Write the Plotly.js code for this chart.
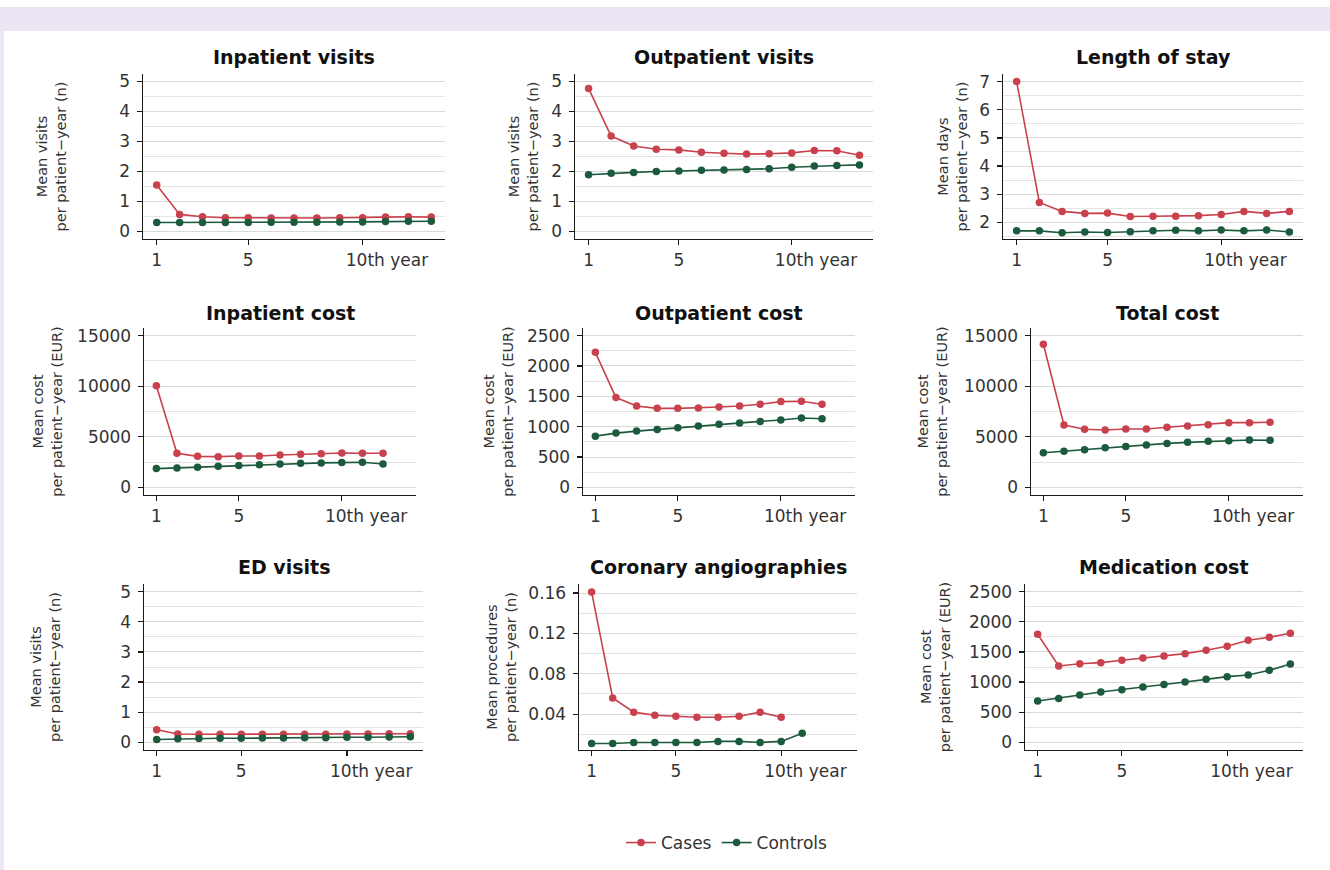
<!DOCTYPE html>
<html>
<head>
<meta charset="utf-8">
<script src="https://cdn.plot.ly/plotly-3.0.1.min.js"></script>
<style>
  html, body { margin: 0; padding: 0; background: #ffffff; }
  #chart { width: 1330px; height: 870px; }
</style>
</head>
<body>
<div id="chart"></div>
<script>
// ---------------- DATA ----------------
const years = [1, 2, 3, 4, 5, 6, 7, 8, 9, 10, 11, 12, 13];
const xTickVals = [1, 5, 10];
const xTickLabels = ["1", "5", "10th year"];
const seriesNames = ["Cases", "Controls"];

const panelTitles = ["Inpatient visits", "Outpatient visits", "Length of stay",
                     "Inpatient cost", "Outpatient cost", "Total cost",
                     "ED visits", "Coronary angiographies", "Medication cost"];
const yTitles = ["Mean visits<br>per patient\u2212year (n)", "Mean visits<br>per patient\u2212year (n)",
                 "Mean days<br>per patient\u2212year (n)",
                 "Mean cost<br>per patient\u2212year (EUR)", "Mean cost<br>per patient\u2212year (EUR)",
                 "Mean cost<br>per patient\u2212year (EUR)",
                 "Mean visits<br>per patient\u2212year (n)", "Mean procedures<br>per patient\u2212year (n)",
                 "Mean cost<br>per patient\u2212year (EUR)"];

const inpatientVisitsCases    = [1.55, 0.57, 0.49, 0.46, 0.46, 0.45, 0.45, 0.45, 0.46, 0.46, 0.48, 0.49, 0.48];
const inpatientVisitsControls = [0.30, 0.30, 0.30, 0.30, 0.30, 0.31, 0.31, 0.31, 0.32, 0.32, 0.33, 0.34, 0.34];

const outpatientVisitsCases    = [4.77, 3.18, 2.85, 2.74, 2.72, 2.64, 2.61, 2.58, 2.59, 2.62, 2.70, 2.69, 2.54];
const outpatientVisitsControls = [1.89, 1.94, 1.97, 2.00, 2.02, 2.04, 2.05, 2.07, 2.09, 2.14, 2.18, 2.20, 2.22];

const lengthOfStayCases    = [7.00, 2.71, 2.39, 2.32, 2.33, 2.21, 2.22, 2.22, 2.24, 2.28, 2.39, 2.32, 2.39];
const lengthOfStayControls = [1.70, 1.70, 1.63, 1.66, 1.64, 1.67, 1.70, 1.72, 1.70, 1.73, 1.70, 1.73, 1.66];

const inpatientCostCases    = [10050, 3370, 3070, 3040, 3100, 3100, 3200, 3270, 3330, 3400, 3370, 3370];
const inpatientCostControls = [1860, 1930, 1990, 2090, 2160, 2250, 2320, 2390, 2420, 2450, 2480, 2320];

const outpatientCostCases    = [2224, 1479, 1341, 1302, 1302, 1308, 1324, 1341, 1369, 1413, 1418, 1369];
const outpatientCostControls = [844, 894, 927, 955, 982, 1010, 1038, 1060, 1087, 1109, 1142, 1131];

const totalCostCases    = [14140, 6170, 5740, 5670, 5770, 5770, 5940, 6070, 6200, 6400, 6400, 6440];
const totalCostControls = [3420, 3580, 3720, 3920, 4050, 4180, 4350, 4450, 4550, 4610, 4680, 4650];

const edVisitsCases    = [0.42, 0.28, 0.27, 0.27, 0.27, 0.27, 0.27, 0.27, 0.27, 0.28, 0.28, 0.29, 0.29];
const edVisitsControls = [0.10, 0.12, 0.13, 0.14, 0.14, 0.15, 0.15, 0.16, 0.16, 0.17, 0.17, 0.18, 0.19];

const coronaryCases    = [0.161, 0.056, 0.042, 0.039, 0.038, 0.037, 0.037, 0.038, 0.042, 0.037];
const coronaryControls = [0.011, 0.011, 0.012, 0.012, 0.012, 0.012, 0.013, 0.013, 0.012, 0.013, 0.021];

const medicationCostCases    = [1792, 1267, 1305, 1322, 1361, 1400, 1433, 1471, 1527, 1593, 1692, 1742, 1809];
const medicationCostControls = [686, 730, 785, 835, 874, 918, 962, 1001, 1045, 1090, 1117, 1195, 1300];

const casesSeries = [inpatientVisitsCases, outpatientVisitsCases, lengthOfStayCases,
                     inpatientCostCases, outpatientCostCases, totalCostCases,
                     edVisitsCases, coronaryCases, medicationCostCases];
const controlsSeries = [inpatientVisitsControls, outpatientVisitsControls, lengthOfStayControls,
                        inpatientCostControls, outpatientCostControls, totalCostControls,
                        edVisitsControls, coronaryControls, medicationCostControls];

// ---------------- STYLE / LAYOUT ----------------
const W = 1330, H = 870;
const colCases = "#c8414d";
const colControls = "#1c5a3d";

// panel boxes in pixels: [left, right, top, bottom]
const boxes = [
  [143, 445, 74, 239], [575, 873, 74, 239], [1003, 1303, 74, 239],
  [144, 416, 328, 495], [583, 855, 328, 495], [1031, 1303, 328, 495],
  [144, 423, 584, 750], [579, 857, 584, 750], [1025, 1303, 584, 750]
];
const titleY = [57, 57, 57, 313, 313, 313, 567, 567, 567];
const yAxisCfg = [
  {range: [-0.25, 5.25], dtick: 1, minor: 0.5, fmt: "d"},
  {range: [-0.25, 5.25], dtick: 1, minor: 0.5, fmt: "d"},
  {range: [1.41, 7.27], dtick: 1, minor: 0.5, fmt: "d"},
  {range: [-750, 15750], dtick: 5000, minor: 2500, fmt: "d"},
  {range: [-125, 2625], dtick: 500, minor: 250, fmt: "d"},
  {range: [-750, 15750], dtick: 5000, minor: 2500, fmt: "d"},
  {range: [-0.25, 5.25], dtick: 1, minor: 0.5, fmt: "d"},
  {range: [0.0045, 0.169], dtick: 0.04, minor: 0.02, fmt: ".2f"},
  {range: [-125, 2625], dtick: 500, minor: 250, fmt: "d"}
];
const yStandoff = [49, 9, 8, 11, 10, 13, 56, 8, 15];

const nb = "\u00a0";
const xTickText = xTickLabels.map(function (t, i) {
  return i === xTickLabels.length - 1 ? nb.repeat(9) + t : t;
});

const tickFont = {family: "DejaVu Sans, sans-serif", size: 17, color: "#333333"};
const traces = [];
const layout = {
  width: W, height: H,
  margin: {l: 0, r: 0, t: 0, b: 0},
  paper_bgcolor: "#ffffff",
  plot_bgcolor: "#ffffff",
  font: {family: "DejaVu Sans, sans-serif", color: "#333333"},
  showlegend: true,
  legend: {
    orientation: "h", x: 727 / W, y: 1 - 843 / H, xanchor: "center", yanchor: "middle",
    font: {family: "DejaVu Sans, sans-serif", size: 17, color: "#333333"},
    bgcolor: "rgba(0,0,0,0)", itemwidth: 30, tracegroupgap: 0
  },
  annotations: [],
  shapes: [
    {type: "rect", xref: "paper", yref: "paper", x0: 0, x1: 1, y0: 1 - 31 / H, y1: 1 - 7 / H,
     fillcolor: "#ece6f4", line: {width: 0}, layer: "below"},
    {type: "rect", xref: "paper", yref: "paper", x0: 0, x1: 4 / W, y0: 0, y1: 1 - 31 / H,
     fillcolor: "#ece6f4", line: {width: 0}, layer: "below"}
  ]
};

for (let i = 0; i < 9; i++) {
  const sfx = i === 0 ? "" : String(i + 1);
  const b = boxes[i];
  const cfg = yAxisCfg[i];
  layout["xaxis" + sfx] = {
    domain: [b[0] / W, b[1] / W],
    anchor: "y" + sfx,
    range: [0.4, 13.6],
    tickmode: "array", tickvals: xTickVals, ticktext: xTickText,
    showgrid: false, zeroline: false,
    showline: true, linecolor: "#1a1a1a", linewidth: 1.4,
    ticks: "outside", ticklen: 5, tickwidth: 1.2, tickcolor: "#1a1a1a",
    tickfont: tickFont, fixedrange: true
  };
  layout["yaxis" + sfx] = {
    domain: [1 - b[3] / H, 1 - b[2] / H],
    anchor: "x" + sfx,
    range: cfg.range, dtick: cfg.dtick, tick0: 0, tickformat: cfg.fmt,
    showgrid: true, gridcolor: "#d9d9d9", gridwidth: 1,
    minor: {dtick: cfg.minor, tick0: 0, showgrid: true, gridcolor: "#e4e4e4", gridwidth: 1, ticks: ""},
    zeroline: false,
    showline: true, linecolor: "#1a1a1a", linewidth: 1.4,
    ticks: "outside", ticklen: 5, tickwidth: 1.2, tickcolor: "#1a1a1a",
    ticklabelstandoff: 3,
    tickfont: tickFont, fixedrange: true,
    title: {text: yTitles[i], standoff: yStandoff[i],
            font: {family: "DejaVu Sans, sans-serif", size: 14.5, color: "#333333"}}
  };
  layout.annotations.push({
    text: "<b>" + panelTitles[i] + "</b>", xref: "paper", yref: "paper",
    x: (b[0] + b[1]) / 2 / W, y: 1 - titleY[i] / H, xanchor: "center", yanchor: "middle",
    showarrow: false, font: {family: "DejaVu Sans, sans-serif", size: 19, color: "#111111"}
  });
  const cs = casesSeries[i], ct = controlsSeries[i];
  traces.push({
    type: "scatter", mode: "lines+markers", name: seriesNames[0], legendgroup: "cases",
    showlegend: i === 0, x: years.slice(0, cs.length), y: cs,
    xaxis: "x" + sfx, yaxis: "y" + sfx,
    line: {color: colCases, width: 1.6}, marker: {color: colCases, size: 7.5},
    cliponaxis: false
  });
  traces.push({
    type: "scatter", mode: "lines+markers", name: seriesNames[1], legendgroup: "controls",
    showlegend: i === 0, x: years.slice(0, ct.length), y: ct,
    xaxis: "x" + sfx, yaxis: "y" + sfx,
    line: {color: colControls, width: 1.6}, marker: {color: colControls, size: 7.5},
    cliponaxis: false
  });
}

Plotly.newPlot("chart", traces, layout, {displayModeBar: false, staticPlot: true});
</script>
</body>
</html>
